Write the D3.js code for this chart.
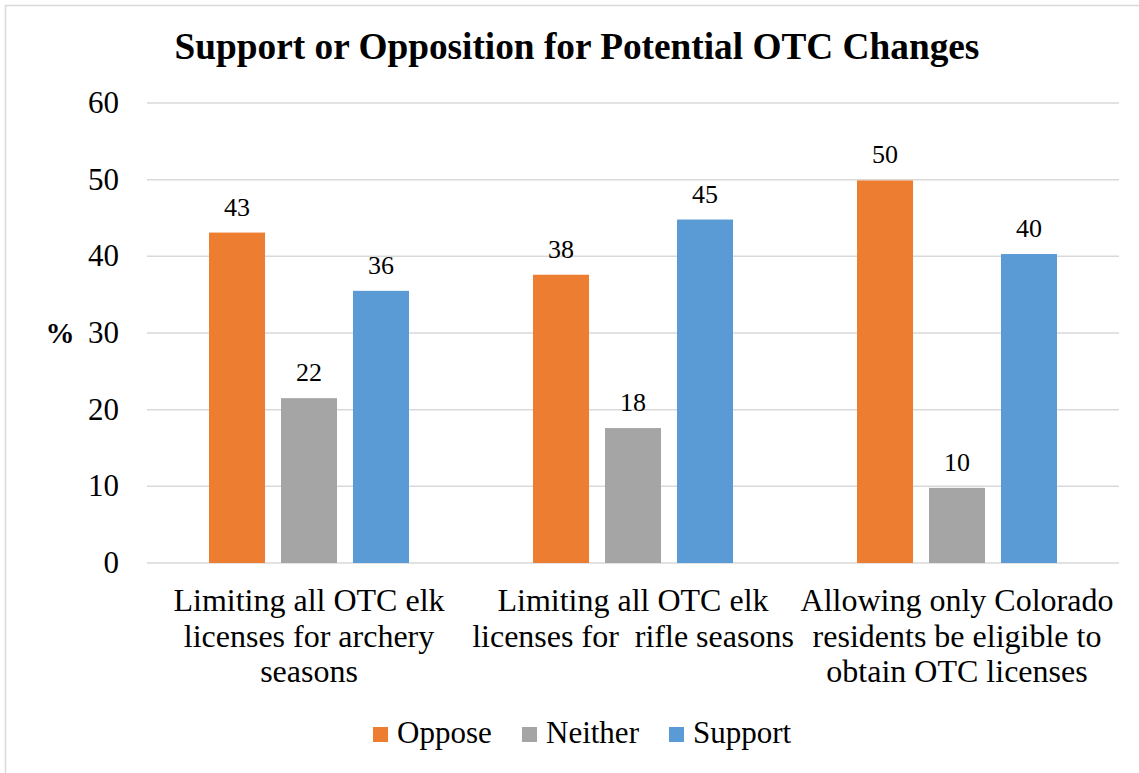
<!DOCTYPE html>
<html>
<head>
<meta charset="utf-8">
<script src="https://cdn.jsdelivr.net/npm/d3@7"></script>
<style>
  body { margin: 0; background: #fff; }
</style>
</head>
<body>
<div id="chart"></div>
<script>
var categories = [
    ["Limiting all OTC elk", "licenses for archery", "seasons"],
    ["Limiting all OTC elk", "licenses for\u00a0 rifle seasons"],
    ["Allowing only Colorado", "residents be eligible to", "obtain OTC licenses"]
];
var seriesNames = ["Oppose", "Neither", "Support"];
var oppose = [43.1, 37.6, 49.9];
var neither = [21.5, 17.6, 9.8];
var support = [35.5, 44.8, 40.3];
var labels = [[43, 22, 36], [38, 18, 45], [50, 10, 40]];
var yTicks = [0, 10, 20, 30, 40, 50, 60];
var colors = ["#ed7d31", "#a5a5a5", "#5b9bd5"];

var width = 1139, height = 773;
var serif = '"Liberation Serif"';

var svg = d3.select('#chart')
    .append('svg')
    .attr('width', width)
    .attr('height', height)
    .style('font-family', serif);

svg.append('rect')
    .attr('x', 5.5).attr('y', 5.5)
    .attr('width', 1200).attr('height', 900)
    .attr('fill', 'none')
    .attr('stroke', '#d9d9d9')
    .attr('stroke-width', 1.5);

var y = d3.scaleLinear()
    .domain([0, 60])
    .range([563, 103]);

var x0 = d3.scaleBand()
    .domain(d3.range(categories.length))
    .range([147, 1119])
    .padding(0);

var groupW = 200;
var x1 = d3.scaleBand()
    .domain(seriesNames)
    .range([(x0.bandwidth() - groupW) / 2, (x0.bandwidth() + groupW) / 2])
    .paddingInner(0.222);

// gridlines
svg.append('g')
    .selectAll('line')
    .data(yTicks)
    .enter()
    .append('line')
    .attr('x1', 147)
    .attr('x2', 1119)
    .attr('y1', function (d) { return y(d); })
    .attr('y2', function (d) { return y(d); })
    .attr('stroke', '#d9d9d9')
    .attr('stroke-width', 1.5);

// y tick labels
svg.append('g')
    .selectAll('text')
    .data(yTicks)
    .enter()
    .append('text')
    .attr('x', 119)
    .attr('y', function (d) { return y(d) + 10; })
    .attr('text-anchor', 'end')
    .style('font-family', serif)
    .style('font-size', '31px')
    .text(function (d) { return d; });

svg.append('text')
    .attr('x', 60)
    .attr('y', y(30) + 10)
    .attr('text-anchor', 'middle')
    .style('font-family', serif)
    .style('font-size', '29px')
    .style('font-weight', 'bold')
    .text('%');

// title
svg.append('text')
    .attr('x', 577)
    .attr('y', 59)
    .attr('text-anchor', 'middle')
    .style('font-family', serif)
    .style('font-size', '37.3px')
    .style('font-weight', 'bold')
    .text('Support or Opposition for Potential OTC Changes');

var rows = categories.map(function (c, i) {
    return [
        {key: seriesNames[0], value: oppose[i], label: labels[i][0], color: colors[0]},
        {key: seriesNames[1], value: neither[i], label: labels[i][1], color: colors[1]},
        {key: seriesNames[2], value: support[i], label: labels[i][2], color: colors[2]}
    ];
});

var groups = svg.append('g')
    .selectAll('g')
    .data(rows)
    .enter()
    .append('g')
    .attr('transform', function (d, i) { return 'translate(' + x0(i) + ',0)'; });

groups.selectAll('rect')
    .data(function (d) { return d; })
    .enter()
    .append('rect')
    .attr('x', function (d) { return x1(d.key); })
    .attr('width', x1.bandwidth())
    .attr('y', function (d) { return y(d.value); })
    .attr('height', function (d) { return y(0) - y(d.value); })
    .attr('fill', function (d) { return d.color; });

groups.selectAll('text.val')
    .data(function (d) { return d; })
    .enter()
    .append('text')
    .attr('class', 'val')
    .attr('x', function (d) { return x1(d.key) + x1.bandwidth() / 2; })
    .attr('y', function (d) { return y(d.value) - 17; })
    .attr('text-anchor', 'middle')
    .style('font-family', serif)
    .style('font-size', '26px')
    .text(function (d) { return d.label; });

// category labels
svg.append('g')
    .selectAll('text')
    .data(categories)
    .enter()
    .append('text')
    .attr('text-anchor', 'middle')
    .style('font-family', serif)
    .style('font-size', '32px')
    .attr('transform', function (d, i) {
        return 'translate(' + (x0(i) + x0.bandwidth() / 2) + ',611)';
    })
    .selectAll('tspan')
    .data(function (d) { return d; })
    .enter()
    .append('tspan')
    .attr('x', 0)
    .attr('y', function (d, i) { return i * 35.5; })
    .text(function (d) { return d; });

// legend
var legendX = [373, 522, 669];
var legend = svg.append('g')
    .selectAll('g')
    .data(seriesNames)
    .enter()
    .append('g')
    .attr('transform', function (d, i) { return 'translate(' + legendX[i] + ',727)'; });

legend.append('rect')
    .attr('width', 15)
    .attr('height', 15)
    .attr('fill', function (d, i) { return colors[i]; });

legend.append('text')
    .attr('x', 24)
    .attr('y', 16)
    .style('font-family', serif)
    .style('font-size', '31px')
    .text(function (d) { return d; });
</script>
</body>
</html>
